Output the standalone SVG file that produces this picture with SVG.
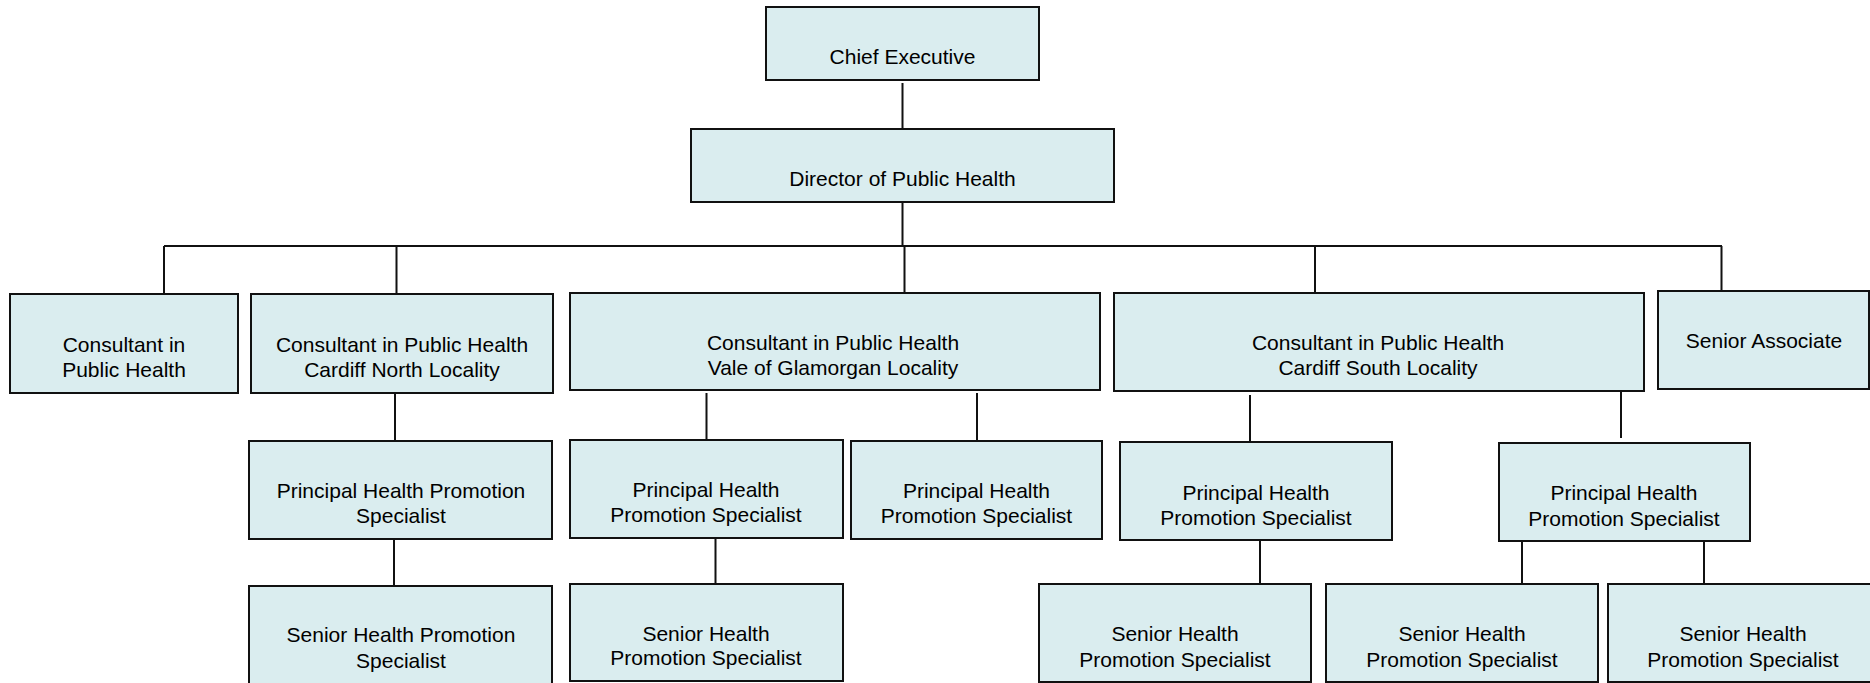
<svg xmlns="http://www.w3.org/2000/svg" width="1870" height="683" viewBox="0 0 1870 683">
<style>
.box{fill:#DAEDEF;stroke:#111;stroke-width:2}
.t{font-family:"Liberation Sans",Arial,sans-serif;font-size:21px;fill:#000;text-anchor:middle}
.c{stroke:#111;stroke-width:2;fill:none}
</style>
<rect width="1870" height="683" fill="#fff"/>
<g id="connectors">
<path class="c" d="M902.5 83V129M902.5 202V246M164 246H1722M164 246V294M396.5 246V294M904.5 246V293M1315 246V293M1721.5 246V291"/>
<path class="c" d="M395 393V441M394 539V586"/>
<path class="c" d="M706.5 393V440M715.5 536V584M977 393V441"/>
<path class="c" d="M1250 395V442M1260 536V584M1621 392V438M1522 538V584M1704 538V584"/>
</g>
<g id="chief"><rect class="box" x="766" y="7" width="273" height="73"/><text class="t" x="902.5" y="64">Chief Executive</text></g>
<g id="director"><rect class="box" x="691" y="129" width="423" height="73"/><text class="t" x="902.5" y="186">Director of Public Health</text></g>
<g id="cph"><rect class="box" x="10" y="294" width="228" height="99"/><text class="t" x="124" y="352">Consultant in</text><text class="t" x="124" y="377">Public Health</text></g>
<g id="cph-cn"><rect class="box" x="251" y="294" width="302" height="99"/><text class="t" x="402" y="352">Consultant in Public Health</text><text class="t" x="402" y="377">Cardiff North Locality</text></g>
<g id="cph-vale"><rect class="box" x="570" y="293" width="530" height="97"/><text class="t" x="833" y="350">Consultant in Public Health</text><text class="t" x="833" y="375">Vale of Glamorgan Locality</text></g>
<g id="cph-cs"><rect class="box" x="1114" y="293" width="530" height="98"/><text class="t" x="1378" y="350">Consultant in Public Health</text><text class="t" x="1378" y="375">Cardiff South Locality</text></g>
<g id="senior-associate"><rect class="box" x="1658" y="291" width="211" height="98"/><text class="t" x="1764" y="348">Senior Associate</text></g>
<g id="phps-cn"><rect class="box" x="249" y="441" width="303" height="98"/><text class="t" x="401" y="498">Principal Health Promotion</text><text class="t" x="401" y="523">Specialist</text></g>
<g id="shps-cn"><rect class="box" x="249" y="586" width="303" height="110"/><text class="t" x="401" y="642">Senior Health Promotion</text><text class="t" x="401" y="668">Specialist</text></g>
<g id="phps-vale1"><rect class="box" x="570" y="440" width="273" height="98"/><text class="t" x="706" y="497">Principal Health</text><text class="t" x="706" y="522">Promotion Specialist</text></g>
<g id="shps-vale"><rect class="box" x="570" y="584" width="273" height="97"/><text class="t" x="706" y="641">Senior Health</text><text class="t" x="706" y="665">Promotion Specialist</text></g>
<g id="phps-vale2"><rect class="box" x="851" y="441" width="251" height="98"/><text class="t" x="976.5" y="498">Principal Health</text><text class="t" x="976.5" y="523">Promotion Specialist</text></g>
<g id="phps-cs1"><rect class="box" x="1120" y="442" width="272" height="98"/><text class="t" x="1256" y="500">Principal Health</text><text class="t" x="1256" y="525">Promotion Specialist</text></g>
<g id="shps-cs1"><rect class="box" x="1039" y="584" width="272" height="98"/><text class="t" x="1175" y="641">Senior Health</text><text class="t" x="1175" y="667">Promotion Specialist</text></g>
<g id="phps-cs2"><rect class="box" x="1499" y="443" width="251" height="98"/><text class="t" x="1624" y="500">Principal Health</text><text class="t" x="1624" y="526">Promotion Specialist</text></g>
<g id="shps-cs2a"><rect class="box" x="1326" y="584" width="272" height="98"/><text class="t" x="1462" y="641">Senior Health</text><text class="t" x="1462" y="667">Promotion Specialist</text></g>
<g id="shps-cs2b"><rect class="box" x="1608" y="584" width="272" height="98"/><text class="t" x="1743" y="641">Senior Health</text><text class="t" x="1743" y="667">Promotion Specialist</text></g>
</svg>
